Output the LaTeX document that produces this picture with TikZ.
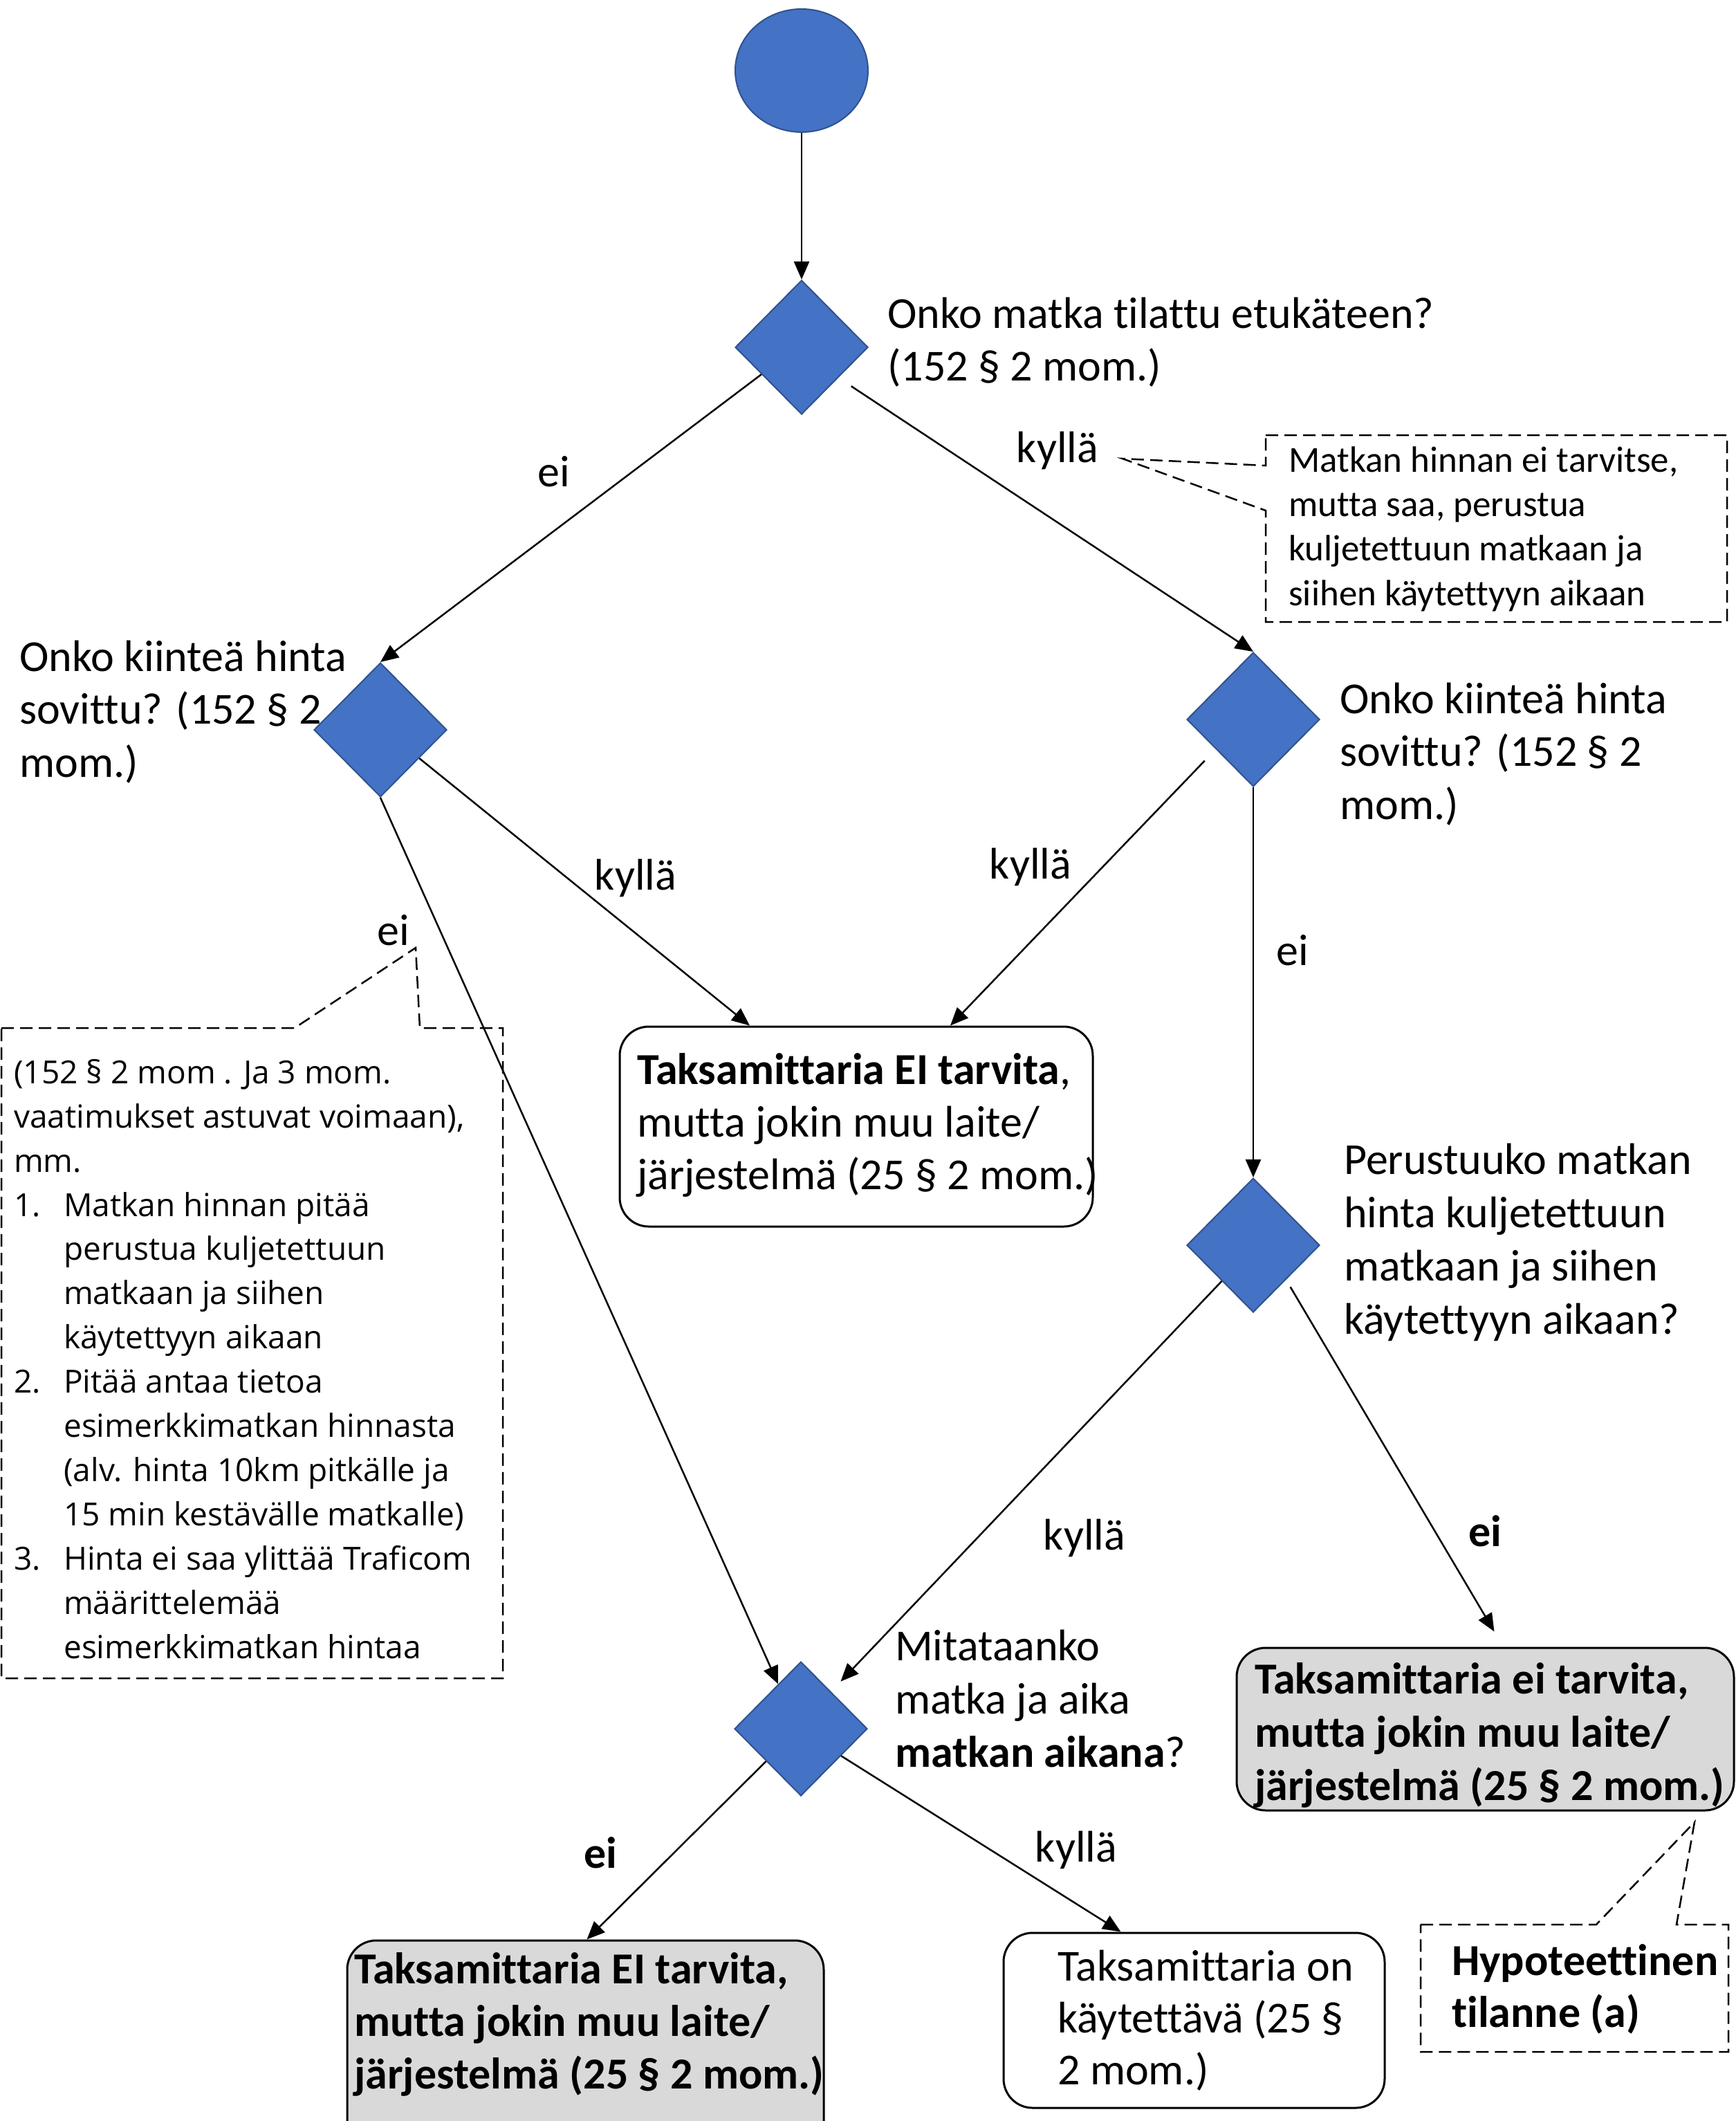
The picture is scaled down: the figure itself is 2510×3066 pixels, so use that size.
\documentclass[tikz,border=0pt]{standalone}
\usepackage{fontspec}
\setmainfont{Carlito}[Ligatures=NoCommon]
\newfontfamily\osans{Open Sans}[Ligatures=NoCommon]
\usetikzlibrary{shapes.geometric,arrows.meta,calc}
\definecolor{myblue}{HTML}{4472C4}
\definecolor{dblue}{HTML}{2F528F}
\definecolor{lgray}{HTML}{D9D9D9}
\begin{document}
\begin{tikzpicture}[x=1pt,y=-1pt,
  dec/.style={diamond, draw=dblue, fill=myblue, line width=2pt, minimum width=192pt, minimum height=194pt, inner sep=0pt, aspect=1},
  startnode/.style={ellipse, draw=dblue, fill=myblue, line width=2pt, minimum width=192pt, minimum height=178pt, inner sep=0pt},
  roundbox/.style={draw=black, line width=3pt, rounded corners=42pt, inner sep=0pt},
  conn/.style={draw=black, line width=2.5pt, -{Triangle[length=26pt,width=22pt]}},
  callout/.style={draw=black, line width=2.5pt, dash pattern=on 18pt off 9pt},
  txt/.style={inner sep=0pt, anchor=base west, align=left, font=\fontsize{64}{76.5}\selectfont},
  lbl/.style={inner sep=0pt, font=\fontsize{64}{76.5}\selectfont}
]
\useasboundingbox (0,0) rectangle (2510,3066);
\fill[white] (0,0) rectangle (2510,3066);
\clip (0,0) rectangle (2510,3066);

% shapes
\node[startnode] (c0) at (1159,102) {};
\node[dec] (d1) at (1159,502) {};
\node[dec] (d2) at (550,1055) {};
\node[dec] (d3) at (1812,1040) {};
\node[dec] (d4) at (1812,1800) {};
\node[dec] (d5) at (1158,2499) {};

\node[roundbox, fill=white, minimum width=684pt, minimum height=289pt] (b1) at (1238,1628.5) {};
\node[roundbox, fill=lgray, minimum width=719pt, minimum height=235pt] (b2) at (2147.5,2499.5) {};
\node[roundbox, fill=lgray, minimum width=689pt, minimum height=305pt] (b3) at (846.5,2957.5) {};
\node[roundbox, fill=white, minimum width=551pt, minimum height=253pt] (b4) at (1726.5,2920.5) {};

% decision texts (anchor = baseline of the last line)
\node[txt] (t1) at (1283,550.5) {Onko matka tilattu etukäteen?\\(152 § 2 mom.)};
\node[txt] (t2) at (28,1123) {Onko kiinteä hinta\\sovittu? (152 § 2\\mom.)};
\node[txt] (t3) at (1937,1184) {Onko kiinteä hinta\\sovittu? (152 § 2\\mom.)};
\node[txt, font=\fontsize{64}{77}\selectfont] (t4) at (1943,1928) {Perustuuko matkan\\hinta kuljetettuun\\matkaan ja siihen\\käytettyyn aikaan?};
\node[txt, font=\fontsize{64}{77}\selectfont] (t5) at (1294,2554) {Mitataanko\\matka ja aika\\\textbf{matkan aikana}?};

% box texts
\node[txt, font=\fontsize{64}{76}\selectfont] (b1t) at (921,1719) {\textbf{Taksamittaria EI tarvita},\\mutta jokin muu laite/\\järjestelmä (25 § 2 mom.)};
\node[txt, font=\fontsize{64}{77}\selectfont\bfseries] (b2t) at (1814,2602) {Taksamittaria ei tarvita,\\mutta jokin muu laite/\\järjestelmä (25 § 2 mom.)};
\node[txt, font=\fontsize{64}{76}\selectfont\bfseries] (b3t) at (512,3019) {Taksamittaria EI tarvita,\\mutta jokin muu laite/\\järjestelmä (25 § 2 mom.)};
\node[txt, font=\fontsize{64}{75}\selectfont] (b4t) at (1529,3013) {Taksamittaria on\\käytettävä (25 §\\2 mom.)};

% callouts
\draw[callout, fill=white] (1830,629) -- (2497,629) -- (2497,899) -- (1830,899) -- (1830,738) -- (1623,663) -- (1830,673) -- cycle;
\node[txt, font=\fontsize{53}{64.3}\selectfont] (c1t) at (1863,875) {Matkan hinnan ei tarvitse,\\mutta saa, perustua\\kuljetettuun matkaan ja\\siihen käytettyyn aikaan};

\draw[callout] (2,1486) -- (426,1486) -- (601,1370) -- (607,1486) -- (727,1486) -- (727,2426) -- (2,2426) -- cycle;
\node[txt, font=\osans\fontsize{46}{63.9}\selectfont] (c2t) at (20,2397) {(152 § 2 mom . Ja 3 mom.\\vaatimukset astuvat voimaan),\\mm.\\
\makebox[72pt][l]{1.}Matkan hinnan pitää\\
\hspace*{72pt}perustua kuljetettuun\\
\hspace*{72pt}matkaan ja siihen\\
\hspace*{72pt}käytettyyn aikaan\\
\makebox[72pt][l]{2.}Pitää antaa tietoa\\
\hspace*{72pt}esimerkkimatkan hinnasta\\
\hspace*{72pt}(alv. hinta 10km pitkälle ja\\
\hspace*{72pt}15 min kestävälle matkalle)\\
\makebox[72pt][l]{3.}Hinta ei saa ylittää Traficom\\
\hspace*{72pt}määrittelemää\\
\hspace*{72pt}esimerkkimatkan hintaa};

\draw[callout, fill=white] (2054,2782) -- (2308,2782) -- (2450,2634) -- (2424,2782) -- (2499,2782) -- (2499,2966) -- (2054,2966) -- cycle;
\node[txt, font=\fontsize{64}{75}\selectfont\bfseries] (c3t) at (2099,2930) {Hypoteettinen\\tilanne (a)};

% connectors
\draw[conn] (c0.south) -- (d1.north);
\draw[conn] ($(d1.west)!0.4!(d1.south)$) -- (d2.north);
\draw[conn, shorten <=22pt] ($(d1.south)!0.55!(d1.east)$) -- (d3.north);
\draw[conn] ($(d2.east)!0.42!(d2.south)$) -- ($(b1.north)+(-154,0)$);
\draw[conn, shorten <=23pt] ($(d3.west)!0.44!(d3.south)$) -- ($(b1.north)+(136,0)$);
\draw[conn] (d3.south) -- (d4.north);
\draw[conn, shorten >=20pt] ($(d4.west)!0.53!(d4.south)$) -- ($(d5.north)!0.45!(d5.east)$);
\draw[conn, shorten <=12pt] ($(d4.east)!0.51!(d4.south)$) -- ($(b2.north)+(13,-22)$);
\draw[conn] (d2.south) -- ($(d5.north)!0.34!(d5.west)$);
\draw[conn] ($(d5.west)!0.48!(d5.south)$) -- ($(b3.north)+(2,0)$);
\draw[conn] ($(d5.south)!0.6!(d5.east)$) -- ($(b4.north)+(-106,0)$);

% connector labels
\node[lbl] (l1) at (801,682) {ei};
\node[lbl] (l2) at (1529,651) {kyllä};
\node[lbl] (l3) at (919,1269) {kyllä};
\node[lbl] (l4) at (1490,1253) {kyllä};
\node[lbl] (l5) at (569,1345) {ei};
\node[lbl] (l6) at (1869,1374) {ei};
\node[lbl] (l7) at (1568,2223) {kyllä};
\node[lbl] (l8) at (2147,2213) {\textbf{ei}};
\node[lbl] (l9) at (868,2678) {\textbf{ei}};
\node[lbl] (l10) at (1556,2674) {kyllä};
\end{tikzpicture}
\end{document}
